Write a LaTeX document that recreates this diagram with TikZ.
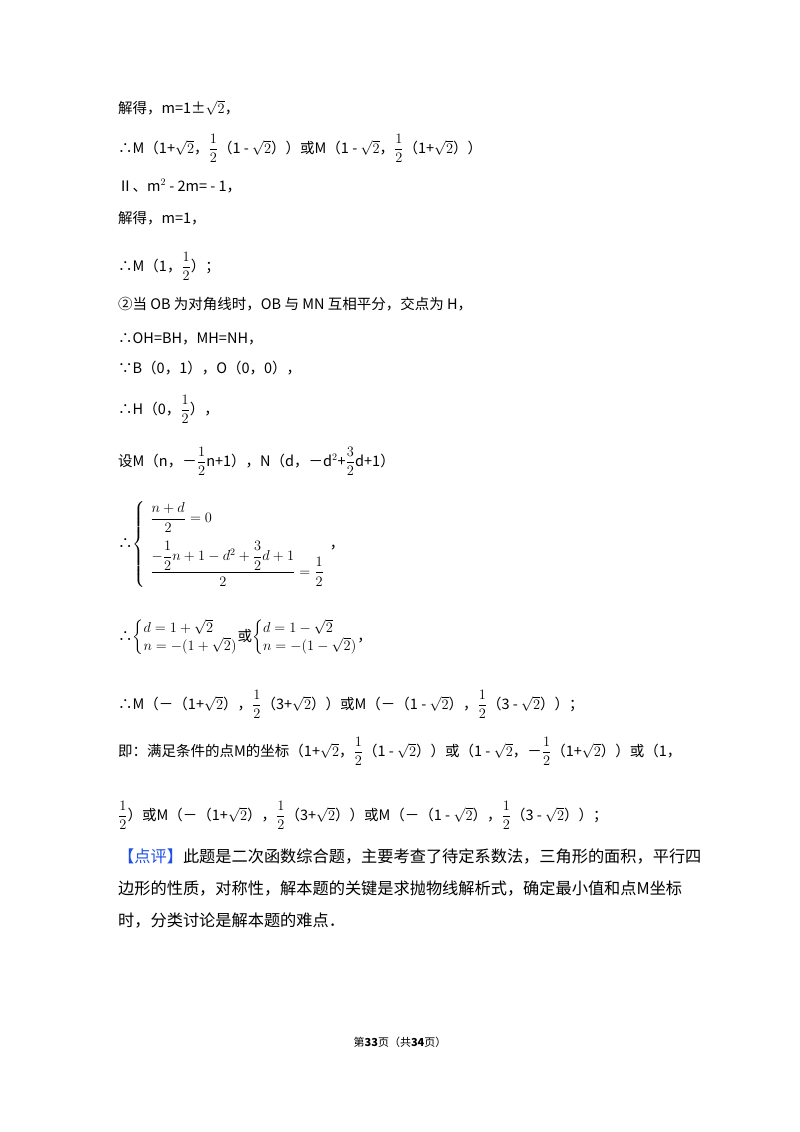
\documentclass[tikz,border=0pt]{standalone}
\usepackage{fontspec}
\usepackage{amsmath}
\setmainfont{Noto Sans CJK SC}
\tikzset{ln/.style={anchor=base west,inner sep=0pt,font=\fontsize{14.5}{17}\selectfont},
 pl/.style={anchor=base west,inner sep=0pt,font=\fontsize{16.2}{19}\selectfont}}
\newcommand{\hf}{\dfrac{1}{2}}
\newcommand{\rt}{\sqrt{2}}
\begin{document}
\begin{tikzpicture}[x=1pt,y=-1pt]
\useasboundingbox[fill=white] (0,0) rectangle (800,1132);
\node[ln] (l1) at (118,113) {解得，m=1±$\rt$，};
\node[ln] (l2) at (118,153) {∴M（1+$\rt$，$\hf$（1 - $\rt$））或M（1 - $\rt$，$\hf$（1+$\rt$））};
\node[ln] (l3) at (118,191) {Ⅱ、m$^2$ - 2m= - 1，};
\node[ln] (l4) at (118,223) {解得，m=1，};
\node[ln] (l5) at (118,271) {∴M（1，$\hf$）；};
\node[ln] (l6) at (118,309) {②当 OB 为对角线时，OB 与 MN 互相平分，交点为 H，};
\node[ln] (l7) at (118,343) {∴OH=BH，MH=NH，};
\node[ln] (l8) at (118,373) {∵B（0，1），O（0，0），};
\node[ln] (l9) at (118,414) {∴H（0，$\hf$），};
\node[ln] (l10) at (118,466) {设M（n，－$\hf$n+1），N（d，－d$^2$+$\dfrac{3}{2}$d+1）};
\node[ln] (l11) at (118,548) {∴$\left\{\begin{array}{l}\dfrac{n+d}{2}=0\\[14pt] \dfrac{-\dfrac{1}{2}n+1-d^2+\dfrac{3}{2}d+1}{2}=\dfrac{1}{2}\end{array}\right.$，};
\node[ln] (l12) at (118,641) {∴$\left\{\begin{array}{@{}l@{}}d=1+\sqrt{2}\\ n=-(1+\sqrt{2})\end{array}\right.$或$\left\{\begin{array}{@{}l@{}}d=1-\sqrt{2}\\ n=-(1-\sqrt{2})\end{array}\right.$，};
\node[ln] (l13) at (118,709) {∴M（－（1+$\rt$），$\hf$（3+$\rt$））或M（－（1 - $\rt$），$\hf$（3 - $\rt$））；};
\node[ln] (l14) at (118,756) {即：满足条件的点M的坐标（1+$\rt$，$\hf$（1 - $\rt$））或（1 - $\rt$，－$\hf$（1+$\rt$））或（1，};
\node[ln] (l15) at (118,820) {$\hf$）或M（－（1+$\rt$），$\hf$（3+$\rt$））或M（－（1 - $\rt$），$\hf$（3 - $\rt$））；};
\node[pl] (l16) at (118,862) {\textcolor[RGB]{30,80,230}{【点评】}此题是二次函数综合题，主要考查了待定系数法，三角形的面积，平行四};
\node[pl] (l17) at (118,894) {边形的性质，对称性，解本题的关键是求抛物线解析式，确定最小值和点M坐标};
\node[pl] (l18) at (118,926) {时，分类讨论是解本题的难点．};
\node[anchor=base,inner sep=0pt,font=\fontsize{11}{13}\selectfont] (ft) at (400,1046) {第\textbf{33}页（共\textbf{34}页）};
\end{tikzpicture}
\end{document}
